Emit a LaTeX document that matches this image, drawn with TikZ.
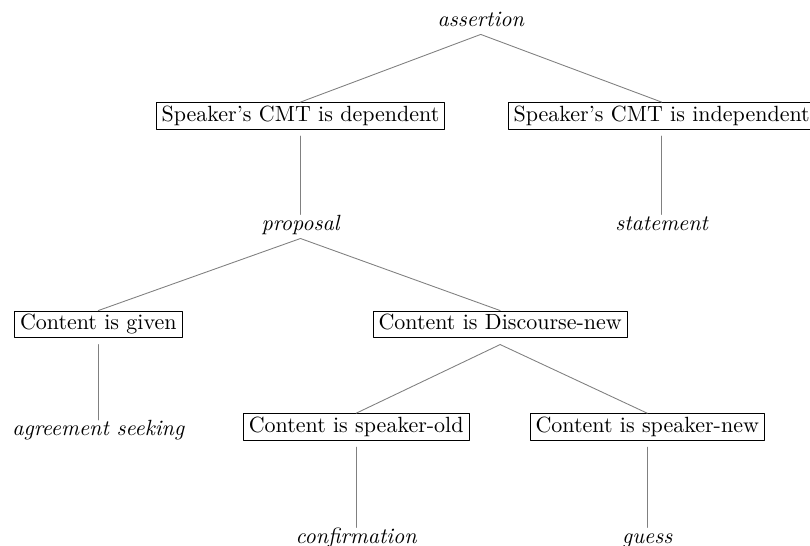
\documentclass[tikz,border=0pt]{standalone}

\begin{document}
\begin{tikzpicture}[line cap=round,line join=round,
    cat/.style={draw,line width=0.45pt,inner xsep=2.5pt,inner ysep=1.5pt,
      text height=7pt,text depth=2pt,anchor=center},
    leaf/.style={font=\itshape,inner sep=0pt,text height=7pt,text depth=3.5pt,anchor=base},
    branch/.style={draw=gray,line width=0.4pt}]
  \useasboundingbox (0,0) rectangle (12.94,8.72);
  % top level
  \node[leaf] (assert) at (7.68,8.30) {assertion};
  \node[cat] (dep) at (4.80,6.87) {Speaker's CMT is dependent};
  \node[cat] (indep) at (10.57,6.87) {Speaker's CMT is independent};
  \node[leaf] (prop) at (4.80,5.04) {proposal};
  \node[leaf] (stat) at (10.57,5.04) {statement};
  % proposal subtree
  \node[cat] (given) at (1.57,3.54) {Content is given};
  \node[cat] (dnew) at (7.99,3.54) {Content is Discourse-new};
  \node[leaf] (agree) at (1.57,1.76) {agreement seeking};
  \node[cat] (sold) at (5.69,1.90) {Content is speaker-old};
  \node[cat] (snew) at (10.34,1.90) {Content is speaker-new};
  \node[leaf] (conf) at (5.69,0.04) {confirmation};
  \node[leaf] (guess) at (10.34,0.04) {guess};
  % branches
  \draw[branch] (assert.south) -- (dep.north);
  \draw[branch] (assert.south) -- (indep.north);
  \draw[branch] ([yshift=-3pt]dep.south) -- (prop.north);
  \draw[branch] ([yshift=-3pt]indep.south) -- (stat.north);
  \draw[branch] (prop.south) -- (given.north);
  \draw[branch] (prop.south) -- (dnew.north);
  \draw[branch] ([yshift=-3pt]given.south) -- (agree.north);
  \draw[branch] ([yshift=-3pt]dnew.south) -- (sold.north);
  \draw[branch] ([yshift=-3pt]dnew.south) -- (snew.north);
  \draw[branch] ([yshift=-3pt]sold.south) -- (conf.north);
  \draw[branch] ([yshift=-3pt]snew.south) -- (guess.north);
\end{tikzpicture}
\end{document}
